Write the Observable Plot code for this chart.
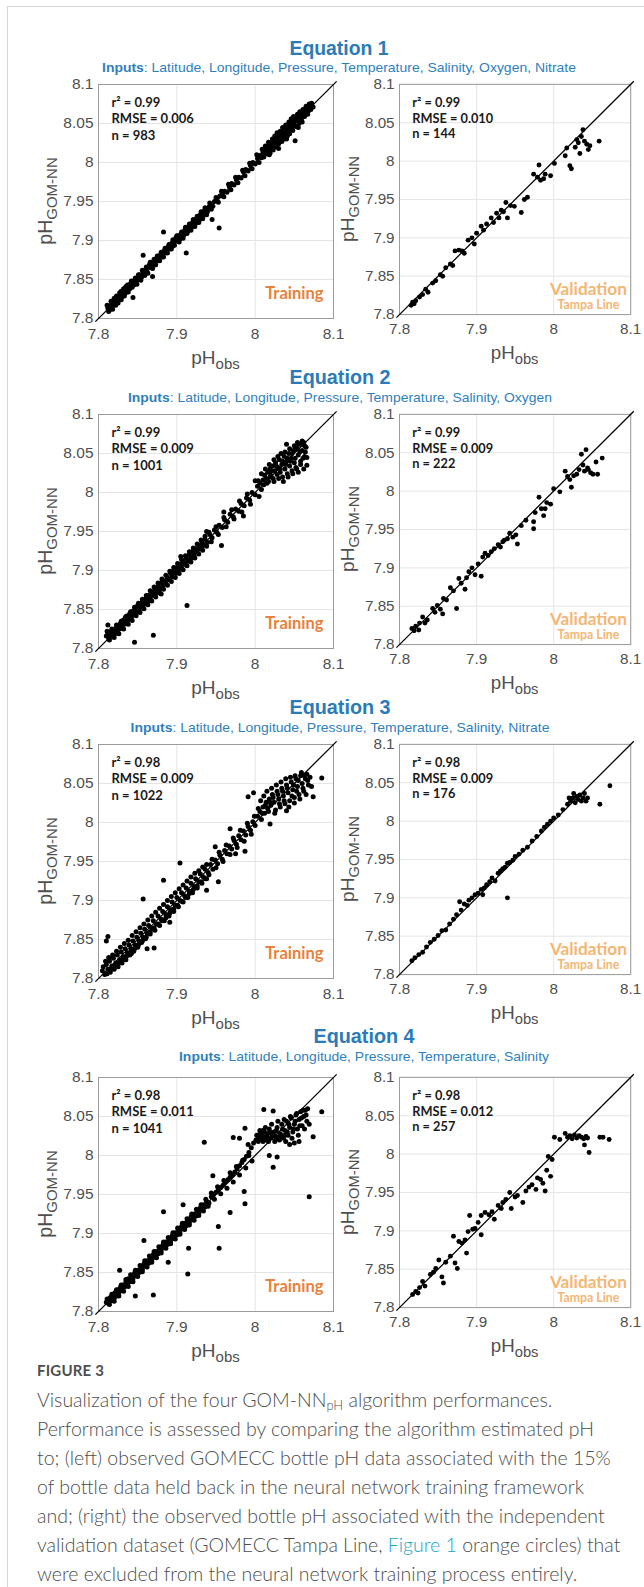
<!DOCTYPE html>
<html><head><meta charset="utf-8">
<script src="https://cdn.jsdelivr.net/npm/d3@7"></script>
<script src="https://cdn.jsdelivr.net/npm/@observablehq/plot@0.6"></script>
<style>
body{margin:0;background:#fff;}
#page{position:relative;width:644px;height:1587px;overflow:hidden;background:#fff;}
#border{position:absolute;left:7px;top:6px;width:700px;height:1700px;border:1px solid #d6d6d6;}
.panel{position:absolute;}
#overlay{position:absolute;left:0;top:0;}
#caption{position:absolute;left:37px;top:1356px;font-family:Lato,'Open Sans',sans-serif;color:#4e4e4e;white-space:nowrap;}
#caption .fig{font-size:15px;font-weight:700;line-height:29px;letter-spacing:0.2px;}
#caption .line{font-size:19.5px;font-weight:300;line-height:29px;}
#caption a{color:#1ba6c9;text-decoration:none;}
</style></head>
<body><div id="page"><div id="border"></div></div>
<script>
// ---------- data ----------
const equationNames = ["Equation 1", "Equation 2", "Equation 3", "Equation 4"];
const inputLists = [
  "Latitude, Longitude, Pressure, Temperature, Salinity, Oxygen, Nitrate",
  "Latitude, Longitude, Pressure, Temperature, Salinity, Oxygen",
  "Latitude, Longitude, Pressure, Temperature, Salinity, Nitrate",
  "Latitude, Longitude, Pressure, Temperature, Salinity"
];
const trainStats = [["0.99","0.006","983"],["0.99","0.009","1001"],["0.98","0.009","1022"],["0.98","0.011","1041"]];
const validStats = [["0.99","0.010","144"],["0.99","0.009","222"],["0.98","0.009","176"],["0.98","0.012","257"]];
const phDomain = [7.8, 8.1];
const xTicks = [7.8, 7.9, 8, 8.1];
const yTicks = [7.8, 7.85, 7.9, 7.95, 8, 8.05, 8.1];

const eq1Train = [[7.812,7.813],[7.814,7.816],[7.815,7.812],[7.817,7.819],[7.816,7.815],[7.819,7.817],[7.818,7.821],[7.821,7.819],[7.820,7.823],[7.822,7.825],[7.824,7.822],[7.825,7.827],[7.826,7.824],[7.828,7.830],[7.827,7.833],[7.830,7.828],[7.831,7.834],[7.833,7.836],[7.834,7.832],[7.836,7.838],[7.835,7.841],[7.838,7.840],[7.839,7.843],[7.841,7.845],[7.840,7.838],[7.843,7.846],[7.845,7.843],[7.846,7.849],[7.848,7.846],[7.850,7.852],[7.852,7.850],[7.853,7.856],[7.855,7.853],[7.857,7.860],[7.858,7.857],[7.860,7.862],[7.862,7.860],[7.864,7.866],[7.865,7.869],[7.867,7.865],[7.868,7.871],[7.870,7.868],[7.872,7.874],[7.874,7.877],[7.876,7.874],[7.877,7.880],[7.879,7.881],[7.881,7.879],[7.882,7.885],[7.884,7.887],[7.886,7.884],[7.887,7.890],[7.889,7.892],[7.891,7.889],[7.892,7.895],[7.894,7.897],[7.896,7.899],[7.895,7.893],[7.898,7.901],[7.899,7.904],[7.901,7.899],[7.902,7.906],[7.904,7.902],[7.905,7.908],[7.907,7.910],[7.909,7.907],[7.910,7.913],[7.912,7.915],[7.914,7.912],[7.915,7.918],[7.917,7.920],[7.919,7.917],[7.920,7.923],[7.922,7.926],[7.924,7.922],[7.925,7.928],[7.927,7.930],[7.929,7.927],[7.930,7.933],[7.932,7.936],[7.934,7.932],[7.935,7.938],[7.937,7.941],[7.939,7.937],[7.941,7.943],[7.943,7.946],[7.946,7.944],[7.948,7.950],[7.951,7.953],[7.955,7.957],[7.958,7.960],[7.961,7.963],[7.964,7.962],[7.967,7.969],[7.970,7.973],[7.973,7.971],[7.976,7.978],[7.979,7.981],[7.982,7.980],[7.985,7.988],[7.988,7.991],[7.991,7.989],[7.994,7.996],[7.997,8.000],[8.000,7.998],[8.003,8.005],[8.006,8.009],[8.008,8.006],[8.010,8.013],[8.012,8.016],[8.014,8.011],[8.016,8.019],[8.018,8.022],[8.020,8.017],[8.021,8.025],[8.023,8.021],[8.024,8.028],[8.026,8.024],[8.027,8.031],[8.029,8.027],[8.030,8.033],[8.032,8.030],[8.033,8.036],[8.035,8.033],[8.036,8.040],[8.038,8.036],[8.039,8.043],[8.041,8.039],[8.042,8.046],[8.044,8.042],[8.045,8.049],[8.047,8.045],[8.048,8.052],[8.050,8.048],[8.051,8.055],[8.053,8.057],[8.055,8.053],[8.056,8.060],[8.058,8.062],[8.060,8.058],[8.062,8.064],[8.064,8.067],[8.066,8.070],[8.068,8.066],[8.070,8.073],[8.072,8.076],[8.074,8.071],[7.844,7.827],[7.857,7.881],[7.869,7.854],[7.883,7.911],[7.912,7.884],[7.954,7.916],[7.945,7.927],[8.051,8.028],[8.060,8.052],[8.018,8.010],[8.040,8.030],[8.030,8.018],[8.055,8.045]];
const eq1TrainDense = [[7.811,7.817],[7.813,7.809],[7.816,7.822],[7.818,7.812],[7.820,7.826],[7.822,7.817],[7.823,7.829],[7.825,7.820],[7.829,7.835],[7.829,7.824],[7.832,7.838],[7.833,7.829],[7.837,7.843],[7.838,7.834],[7.842,7.848],[7.843,7.840],[7.847,7.852],[7.849,7.844],[7.851,7.856],[7.854,7.849],[7.856,7.862],[7.859,7.855],[7.861,7.866],[7.863,7.858],[7.866,7.872],[7.869,7.864],[7.871,7.876],[7.873,7.869],[7.875,7.880],[7.878,7.874],[7.880,7.885],[7.883,7.879],[7.885,7.890],[7.888,7.884],[7.890,7.895],[7.893,7.889],[7.895,7.901],[7.897,7.894],[7.900,7.906],[7.903,7.898],[7.906,7.911],[7.908,7.903],[7.911,7.917],[7.913,7.909],[7.916,7.921],[7.918,7.913],[7.921,7.927],[7.923,7.918],[7.926,7.931],[7.928,7.923],[7.931,7.937],[7.933,7.928],[7.936,7.942],[7.938,7.933],[7.942,7.948],[7.944,7.940],[7.950,7.955],[7.953,7.949],[7.957,7.963],[7.960,7.956],[7.966,7.972],[7.969,7.965],[7.975,7.981],[7.978,7.974],[7.984,7.990],[7.987,7.983],[7.993,7.999],[7.996,7.992],[8.002,8.010],[8.005,8.000],[8.009,8.017],[8.011,8.007],[8.013,8.021],[8.015,8.014],[8.017,8.026],[8.019,8.012],[8.022,8.030],[8.023,8.016],[8.025,8.034],[8.027,8.020],[8.028,8.038],[8.030,8.024],[8.032,8.040],[8.034,8.027],[8.035,8.045],[8.037,8.030],[8.039,8.048],[8.041,8.034],[8.043,8.052],[8.044,8.037],[8.046,8.056],[8.048,8.041],[8.049,8.059],[8.052,8.046],[8.054,8.062],[8.056,8.050],[8.057,8.065],[8.059,8.054],[8.061,8.068],[8.063,8.059],[8.065,8.072],[8.067,8.062],[8.069,8.075],[8.071,8.068]];

const eq1Valid = [[7.815,7.812],[7.817,7.816],[7.819,7.814],[7.821,7.818],[7.826,7.823],[7.830,7.826],[7.834,7.833],[7.837,7.829],[7.843,7.841],[7.847,7.844],[7.853,7.852],[7.856,7.850],[7.860,7.861],[7.866,7.866],[7.869,7.864],[7.872,7.883],[7.877,7.884],[7.881,7.883],[7.884,7.880],[7.889,7.897],[7.894,7.900],[7.897,7.892],[7.900,7.906],[7.906,7.915],[7.909,7.910],[7.913,7.918],[7.919,7.926],[7.922,7.920],[7.926,7.932],[7.929,7.926],[7.932,7.936],[7.935,7.934],[7.938,7.946],[7.940,7.926],[7.944,7.942],[7.949,7.941],[7.958,7.933],[7.962,7.950],[7.966,7.953],[7.974,7.983],[7.979,7.979],[7.981,7.995],[7.983,7.975],[7.987,7.977],[7.989,7.983],[7.996,7.981],[8.001,7.997],[8.015,8.007],[8.017,8.017],[8.021,7.994],[8.023,7.990],[8.028,8.018],[8.030,8.028],[8.032,8.024],[8.034,8.010],[8.036,8.032],[8.038,8.041],[8.040,8.026],[8.043,8.022],[8.047,8.020],[8.045,8.015],[8.059,8.026]];

const eq2Train = [[7.810,7.816],[7.812,7.819],[7.813,7.813],[7.815,7.821],[7.816,7.817],[7.818,7.815],[7.819,7.822],[7.821,7.819],[7.822,7.826],[7.824,7.822],[7.825,7.829],[7.827,7.825],[7.828,7.832],[7.830,7.828],[7.831,7.836],[7.833,7.831],[7.834,7.839],[7.836,7.834],[7.837,7.842],[7.839,7.837],[7.840,7.845],[7.842,7.840],[7.844,7.848],[7.845,7.844],[7.847,7.851],[7.849,7.847],[7.850,7.855],[7.852,7.850],[7.854,7.858],[7.856,7.854],[7.857,7.862],[7.859,7.857],[7.861,7.865],[7.863,7.861],[7.864,7.868],[7.866,7.864],[7.868,7.872],[7.870,7.868],[7.872,7.876],[7.874,7.871],[7.876,7.879],[7.878,7.876],[7.880,7.884],[7.882,7.880],[7.884,7.887],[7.886,7.884],[7.888,7.891],[7.890,7.888],[7.892,7.896],[7.894,7.892],[7.896,7.900],[7.898,7.896],[7.900,7.904],[7.902,7.900],[7.904,7.908],[7.906,7.904],[7.908,7.912],[7.910,7.908],[7.912,7.916],[7.914,7.912],[7.916,7.920],[7.918,7.916],[7.920,7.924],[7.922,7.920],[7.924,7.928],[7.926,7.924],[7.928,7.932],[7.930,7.928],[7.932,7.936],[7.934,7.932],[7.936,7.940],[7.939,7.936],[7.942,7.946],[7.945,7.942],[7.948,7.952],[7.951,7.949],[7.954,7.958],[7.958,7.955],[7.961,7.965],[7.965,7.962],[7.968,7.972],[7.972,7.969],[7.975,7.979],[7.979,7.976],[7.982,7.986],[7.986,7.983],[7.989,7.993],[7.993,7.990],[7.996,8.000],[8.000,7.997],[8.003,8.008],[8.006,8.012],[8.008,8.004],[8.010,8.016],[8.012,8.022],[8.014,8.018],[8.016,8.026],[8.017,8.014],[8.019,8.030],[8.020,8.022],[8.022,8.034],[8.023,8.018],[8.025,8.028],[8.026,8.038],[8.028,8.023],[8.029,8.032],[8.031,8.042],[8.032,8.026],[8.034,8.036],[8.035,8.020],[8.037,8.046],[8.038,8.030],[8.040,8.040],[8.041,8.024],[8.043,8.050],[8.044,8.034],[8.046,8.044],[8.047,8.028],[8.049,8.054],[8.050,8.038],[8.052,8.058],[8.053,8.030],[8.055,8.048],[8.056,8.062],[8.058,8.040],[8.060,8.054],[8.062,8.064],[8.063,8.046],[8.065,8.058],[7.846,7.808],[7.870,7.817],[7.812,7.830],[7.913,7.855],[7.957,7.932],[7.938,7.950],[7.960,7.975],[7.985,7.970],[8.000,8.015],[8.066,8.035],[8.040,8.062],[8.005,7.995],[7.880,7.870],[7.905,7.918]];
const eq2TrainDense = [[7.811,7.822],[7.814,7.811],[7.817,7.825],[7.820,7.814],[7.823,7.830],[7.826,7.819],[7.829,7.835],[7.832,7.825],[7.835,7.841],[7.838,7.831],[7.841,7.847],[7.843,7.836],[7.846,7.853],[7.848,7.842],[7.851,7.858],[7.853,7.846],[7.856,7.863],[7.858,7.851],[7.861,7.868],[7.863,7.856],[7.866,7.874],[7.868,7.861],[7.871,7.879],[7.873,7.866],[7.876,7.884],[7.878,7.871],[7.881,7.889],[7.883,7.876],[7.886,7.894],[7.888,7.881],[7.891,7.899],[7.893,7.886],[7.896,7.904],[7.898,7.891],[7.901,7.909],[7.903,7.896],[7.906,7.914],[7.908,7.901],[7.911,7.919],[7.913,7.906],[7.916,7.924],[7.918,7.911],[7.921,7.929],[7.923,7.916],[7.926,7.934],[7.928,7.921],[7.931,7.939],[7.933,7.926],[7.936,7.944],[7.938,7.931],[7.941,7.949],[7.944,7.937],[7.950,7.956],[7.953,7.946],[7.960,7.968],[7.963,7.956],[7.970,7.978],[7.973,7.966],[7.980,7.989],[7.983,7.975],[7.990,7.998],[7.994,7.985],[8.004,8.015],[8.008,8.024],[8.011,8.010],[8.013,8.030],[8.015,8.012],[8.018,8.036],[8.019,8.020],[8.021,8.028],[8.024,8.042],[8.024,8.014],[8.027,8.034],[8.029,8.046],[8.030,8.018],[8.032,8.030],[8.033,8.050],[8.035,8.040],[8.036,8.014],[8.038,8.052],[8.039,8.036],[8.041,8.044],[8.042,8.020],[8.044,8.056],[8.045,8.040],[8.047,8.050],[8.048,8.024],[8.050,8.060],[8.051,8.044],[8.052,8.032],[8.054,8.056],[8.055,8.026],[8.057,8.052],[8.058,8.036],[8.059,8.062],[8.061,8.044],[8.062,8.030],[8.064,8.052],[8.063,8.060],[8.066,8.045],[8.060,8.066],[8.054,8.064]];

const eq2Valid = [[7.816,7.821],[7.819,7.818],[7.821,7.824],[7.825,7.819],[7.826,7.828],[7.830,7.836],[7.833,7.828],[7.836,7.832],[7.843,7.847],[7.846,7.842],[7.849,7.851],[7.853,7.846],[7.856,7.840],[7.857,7.860],[7.861,7.858],[7.866,7.874],[7.870,7.870],[7.874,7.847],[7.877,7.886],[7.880,7.880],[7.885,7.872],[7.887,7.887],[7.890,7.895],[7.894,7.900],[7.898,7.891],[7.902,7.905],[7.906,7.889],[7.908,7.914],[7.911,7.919],[7.915,7.916],[7.919,7.921],[7.923,7.925],[7.928,7.930],[7.931,7.927],[7.934,7.934],[7.936,7.936],[7.940,7.938],[7.943,7.945],[7.947,7.940],[7.951,7.943],[7.953,7.931],[7.958,7.955],[7.964,7.962],[7.974,7.960],[7.974,7.951],[7.976,7.972],[7.981,7.992],[7.984,7.977],[7.987,7.968],[7.989,7.977],[7.991,7.985],[7.996,7.983],[8.000,8.003],[8.008,7.999],[8.015,8.026],[8.018,8.019],[8.021,8.015],[8.023,8.005],[8.026,8.020],[8.030,8.022],[8.033,8.028],[8.036,8.048],[8.038,8.034],[8.040,8.026],[8.042,8.054],[8.044,8.030],[8.045,8.028],[8.048,8.024],[8.051,8.022],[8.055,8.038],[8.057,8.022],[8.063,8.043]];

const eq3Train = [[7.805,7.810],[7.808,7.805],[7.810,7.818],[7.812,7.812],[7.814,7.822],[7.815,7.808],[7.817,7.816],[7.819,7.826],[7.820,7.812],[7.822,7.820],[7.824,7.830],[7.825,7.815],[7.827,7.824],[7.829,7.834],[7.830,7.820],[7.832,7.828],[7.834,7.838],[7.835,7.824],[7.837,7.833],[7.839,7.843],[7.840,7.830],[7.842,7.838],[7.844,7.848],[7.845,7.835],[7.847,7.843],[7.849,7.853],[7.850,7.840],[7.852,7.848],[7.854,7.858],[7.855,7.846],[7.857,7.853],[7.859,7.863],[7.860,7.851],[7.862,7.858],[7.864,7.868],[7.866,7.857],[7.868,7.864],[7.870,7.874],[7.872,7.862],[7.874,7.870],[7.876,7.880],[7.878,7.868],[7.880,7.876],[7.882,7.886],[7.884,7.874],[7.886,7.882],[7.888,7.892],[7.890,7.880],[7.892,7.888],[7.894,7.898],[7.896,7.886],[7.898,7.894],[7.900,7.904],[7.902,7.892],[7.904,7.900],[7.906,7.910],[7.908,7.898],[7.910,7.906],[7.912,7.916],[7.914,7.904],[7.916,7.912],[7.918,7.922],[7.920,7.910],[7.922,7.918],[7.924,7.928],[7.926,7.916],[7.928,7.924],[7.930,7.934],[7.932,7.922],[7.934,7.930],[7.936,7.940],[7.938,7.928],[7.940,7.936],[7.943,7.946],[7.946,7.940],[7.949,7.952],[7.952,7.947],[7.955,7.958],[7.958,7.953],[7.961,7.964],[7.964,7.960],[7.967,7.970],[7.970,7.966],[7.973,7.977],[7.976,7.972],[7.979,7.983],[7.982,7.978],[7.985,7.989],[7.988,7.984],[7.991,7.995],[7.994,7.990],[7.997,8.001],[8.000,7.996],[8.003,8.008],[8.006,8.014],[8.008,8.004],[8.010,8.020],[8.012,8.012],[8.014,8.026],[8.016,8.018],[8.018,8.030],[8.020,8.022],[8.022,8.036],[8.024,8.026],[8.026,8.016],[8.028,8.040],[8.030,8.030],[8.032,8.020],[8.034,8.044],[8.036,8.034],[8.038,8.024],[8.040,8.048],[8.042,8.038],[8.044,8.028],[8.046,8.052],[8.048,8.042],[8.050,8.032],[8.052,8.056],[8.054,8.046],[8.056,8.036],[8.058,8.060],[8.060,8.050],[8.062,8.040],[8.064,8.056],[8.066,8.062],[8.068,8.048],[7.810,7.848],[7.812,7.854],[7.857,7.902],[7.883,7.926],[7.904,7.948],[7.949,7.969],[7.968,7.992],[7.987,7.963],[7.991,8.033],[7.998,8.038],[8.019,7.998],[8.074,8.033],[8.085,8.057],[7.953,7.924],[7.938,7.913],[7.862,7.838],[7.871,7.839],[7.891,7.872],[7.842,7.832],[7.975,7.960]];
const eq3TrainDense = [[7.806,7.815],[7.809,7.822],[7.811,7.806],[7.813,7.827],[7.816,7.812],[7.818,7.830],[7.821,7.816],[7.823,7.835],[7.826,7.820],[7.828,7.840],[7.831,7.825],[7.833,7.845],[7.836,7.829],[7.838,7.849],[7.841,7.834],[7.843,7.855],[7.846,7.838],[7.848,7.860],[7.851,7.843],[7.853,7.865],[7.856,7.848],[7.858,7.870],[7.861,7.853],[7.863,7.875],[7.866,7.860],[7.868,7.880],[7.871,7.865],[7.873,7.885],[7.876,7.870],[7.878,7.890],[7.881,7.874],[7.883,7.895],[7.886,7.878],[7.888,7.900],[7.891,7.884],[7.893,7.905],[7.896,7.889],[7.898,7.910],[7.901,7.894],[7.903,7.915],[7.906,7.899],[7.908,7.920],[7.911,7.904],[7.913,7.925],[7.916,7.909],[7.918,7.930],[7.921,7.914],[7.923,7.935],[7.926,7.919],[7.928,7.938],[7.931,7.924],[7.933,7.943],[7.936,7.928],[7.938,7.946],[7.941,7.933],[7.945,7.953],[7.950,7.942],[7.954,7.962],[7.959,7.950],[7.963,7.971],[7.968,7.959],[7.972,7.980],[7.977,7.968],[7.981,7.990],[7.986,7.976],[7.990,7.999],[7.995,7.985],[7.999,8.008],[8.004,8.018],[8.007,8.028],[8.009,8.012],[8.011,8.034],[8.013,8.022],[8.015,8.040],[8.017,8.014],[8.019,8.026],[8.021,8.044],[8.023,8.032],[8.025,8.012],[8.027,8.048],[8.029,8.036],[8.031,8.024],[8.033,8.052],[8.035,8.040],[8.037,8.028],[8.039,8.056],[8.041,8.044],[8.043,8.020],[8.045,8.058],[8.047,8.034],[8.049,8.048],[8.051,8.060],[8.053,8.040],[8.055,8.054],[8.057,8.030],[8.059,8.064],[8.061,8.044],[8.063,8.060],[8.065,8.036],[8.067,8.054],[8.070,8.058],[8.072,8.046],[8.050,8.025],[8.040,8.015]];

const eq3Valid = [[7.816,7.818],[7.820,7.822],[7.825,7.826],[7.830,7.829],[7.835,7.836],[7.840,7.842],[7.845,7.846],[7.850,7.851],[7.855,7.857],[7.860,7.858],[7.865,7.866],[7.870,7.872],[7.874,7.878],[7.878,7.895],[7.880,7.884],[7.884,7.892],[7.888,7.890],[7.890,7.897],[7.894,7.900],[7.898,7.904],[7.902,7.906],[7.906,7.911],[7.910,7.913],[7.913,7.917],[7.917,7.921],[7.920,7.926],[7.924,7.922],[7.928,7.932],[7.931,7.935],[7.934,7.938],[7.937,7.940],[7.940,7.900],[7.943,7.946],[7.947,7.949],[7.950,7.954],[7.955,7.957],[7.960,7.962],[7.966,7.966],[7.972,7.974],[7.978,7.980],[7.984,7.987],[7.988,7.992],[7.992,7.996],[7.996,8.000],[8.000,8.004],[8.006,8.008],[8.012,8.015],[8.018,8.022],[8.022,8.026],[8.025,8.030],[8.028,8.024],[8.030,8.032],[8.032,8.028],[8.034,8.034],[8.036,8.026],[8.038,8.030],[8.040,8.036],[8.042,8.026],[8.044,8.030],[8.060,8.022],[8.073,8.046],[8.020,8.030],[8.026,8.036],[7.940,7.945],[7.908,7.904]];

const eq4Train = [[7.810,7.812],[7.812,7.815],[7.813,7.810],[7.815,7.818],[7.817,7.814],[7.818,7.821],[7.820,7.817],[7.821,7.824],[7.823,7.820],[7.825,7.828],[7.826,7.824],[7.828,7.831],[7.830,7.827],[7.831,7.834],[7.833,7.831],[7.835,7.838],[7.837,7.834],[7.838,7.842],[7.840,7.838],[7.842,7.845],[7.844,7.842],[7.846,7.849],[7.848,7.846],[7.850,7.853],[7.852,7.850],[7.854,7.857],[7.856,7.854],[7.858,7.861],[7.860,7.858],[7.862,7.865],[7.864,7.862],[7.866,7.869],[7.868,7.866],[7.870,7.873],[7.872,7.870],[7.874,7.877],[7.876,7.874],[7.878,7.881],[7.880,7.878],[7.882,7.885],[7.884,7.882],[7.886,7.889],[7.888,7.886],[7.890,7.893],[7.892,7.890],[7.894,7.897],[7.896,7.894],[7.898,7.901],[7.900,7.898],[7.902,7.905],[7.904,7.902],[7.906,7.909],[7.908,7.906],[7.910,7.913],[7.912,7.910],[7.914,7.917],[7.916,7.914],[7.918,7.921],[7.920,7.918],[7.922,7.925],[7.924,7.922],[7.926,7.929],[7.928,7.926],[7.930,7.933],[7.932,7.930],[7.934,7.937],[7.936,7.934],[7.938,7.941],[7.941,7.939],[7.944,7.947],[7.947,7.950],[7.950,7.953],[7.953,7.956],[7.956,7.959],[7.959,7.962],[7.962,7.966],[7.965,7.969],[7.968,7.972],[7.971,7.975],[7.974,7.979],[7.977,7.983],[7.980,7.987],[7.983,7.991],[7.986,7.995],[7.989,7.999],[7.992,8.004],[7.995,8.010],[7.998,8.016],[8.001,8.020],[8.004,8.024],[8.006,8.028],[8.008,8.021],[8.010,8.032],[8.012,8.024],[8.014,8.020],[8.016,8.028],[8.018,8.034],[8.020,8.022],[8.022,8.026],[8.024,8.030],[8.026,8.020],[8.028,8.036],[8.030,8.024],[8.032,8.028],[8.034,8.040],[8.036,8.022],[8.038,8.032],[8.040,8.044],[8.042,8.026],[8.044,8.036],[8.046,8.048],[8.048,8.030],[8.050,8.040],[8.052,8.052],[8.054,8.034],[8.056,8.046],[8.058,8.056],[8.060,8.038],[8.062,8.050],[8.064,8.058],[8.066,8.044],[7.935,8.017],[8.069,7.947],[7.870,7.821],[7.914,7.848],[7.847,7.820],[7.858,7.891],[7.889,7.863],[7.915,7.881],[7.954,7.881],[7.953,7.909],[7.968,7.927],[7.987,7.938],[7.986,7.954],[7.946,7.974],[7.972,8.023],[7.980,8.022],[7.987,8.035],[8.011,8.059],[8.023,8.057],[8.074,8.024],[8.085,8.056],[8.018,8.000],[8.028,7.998],[8.023,7.985],[7.991,8.014],[7.883,7.928],[7.908,7.937],[7.827,7.853]];
const eq4TrainDense = [[7.811,7.816],[7.814,7.809],[7.817,7.822],[7.820,7.813],[7.823,7.828],[7.826,7.820],[7.829,7.834],[7.832,7.826],[7.835,7.841],[7.838,7.832],[7.841,7.847],[7.844,7.838],[7.847,7.853],[7.850,7.845],[7.853,7.859],[7.856,7.851],[7.859,7.865],[7.862,7.857],[7.865,7.871],[7.868,7.863],[7.871,7.877],[7.874,7.869],[7.877,7.883],[7.880,7.875],[7.883,7.889],[7.886,7.881],[7.889,7.895],[7.892,7.887],[7.895,7.901],[7.898,7.893],[7.901,7.907],[7.904,7.899],[7.907,7.913],[7.910,7.905],[7.913,7.919],[7.916,7.911],[7.919,7.925],[7.922,7.917],[7.925,7.931],[7.928,7.923],[7.931,7.937],[7.934,7.929],[7.937,7.944],[7.940,7.935],[7.944,7.952],[7.948,7.944],[7.952,7.960],[7.956,7.951],[7.960,7.968],[7.964,7.958],[7.968,7.978],[7.972,7.966],[7.976,7.986],[7.980,7.975],[7.984,7.994],[7.988,7.984],[7.992,8.000],[7.996,7.993],[8.002,8.026],[8.004,8.018],[8.006,8.032],[8.008,8.026],[8.010,8.018],[8.012,8.030],[8.013,8.036],[8.015,8.024],[8.017,8.018],[8.019,8.030],[8.021,8.040],[8.023,8.026],[8.025,8.018],[8.027,8.032],[8.029,8.044],[8.031,8.020],[8.033,8.026],[8.035,8.034],[8.037,8.046],[8.039,8.018],[8.041,8.030],[8.043,8.040],[8.045,8.050],[8.047,8.022],[8.049,8.034],[8.051,8.044],[8.053,8.054],[8.055,8.026],[8.057,8.038],[8.059,8.048],[8.061,8.058],[8.063,8.034],[8.065,8.052],[8.067,8.060],[8.069,8.040],[8.056,8.018],[8.050,8.016],[8.044,8.014],[8.038,8.026],[8.026,8.024]];

const eq4Valid = [[7.817,7.817],[7.821,7.821],[7.824,7.819],[7.826,7.826],[7.830,7.834],[7.833,7.828],[7.840,7.843],[7.844,7.846],[7.847,7.851],[7.851,7.862],[7.855,7.840],[7.857,7.832],[7.860,7.859],[7.866,7.867],[7.870,7.893],[7.872,7.858],[7.875,7.851],[7.877,7.886],[7.881,7.884],[7.885,7.888],[7.887,7.871],[7.889,7.899],[7.891,7.920],[7.895,7.902],[7.898,7.903],[7.902,7.911],[7.906,7.920],[7.906,7.895],[7.911,7.924],[7.916,7.921],[7.920,7.925],[7.923,7.915],[7.928,7.933],[7.932,7.929],[7.934,7.937],[7.938,7.941],[7.943,7.950],[7.945,7.929],[7.950,7.944],[7.953,7.946],[7.960,7.937],[7.964,7.952],[7.968,7.957],[7.972,7.960],[7.977,7.954],[7.979,7.969],[7.983,7.967],[7.986,7.962],[7.989,7.952],[7.991,7.979],[7.993,7.997],[7.996,7.971],[7.998,7.993],[8.001,8.022],[8.008,8.019],[8.015,8.027],[8.018,8.022],[8.021,8.024],[8.024,8.020],[8.027,8.025],[8.030,8.021],[8.033,8.024],[8.036,8.022],[8.039,8.020],[8.040,8.012],[8.042,8.023],[8.044,8.021],[8.046,8.002],[8.060,8.022],[8.064,8.022],[8.072,8.019]];

const trainingSets = [eq1Train.concat(eq1TrainDense), eq2Train.concat(eq2TrainDense), eq3Train.concat(eq3TrainDense), eq4Train.concat(eq4TrainDense)];
const validationSets = [eq1Valid, eq2Valid, eq3Valid, eq4Valid];

// ---------- layout ----------
const frameTops = [84, 414, 744, 1077];
const titleLayout = [
  {cx: 339, tb: 55, ib: 72, tw: 99, iw: 474},
  {cx: 340, tb: 384, ib: 402, tw: 101, iw: 424},
  {cx: 340, tb: 714, ib: 732, tw: 101, iw: 419},
  {cx: 364, tb: 1043, ib: 1061, tw: 101, iw: 370}
];
const page = document.getElementById("page");
const axisFont = "'Liberation Sans', Arial, sans-serif";
const labelFont = "Lato, 'Open Sans', sans-serif";
const mL = 60, mR = 14, mT = 8, mB = 60, FW = 235, FH = 234;

function panel(data, stats, kind, frameLeft, frameTop) {
  const ext = 0.004;
  const marks = [
    Plot.gridX(xTicks, {stroke: "#e4e4e4", strokeOpacity: 1}),
    Plot.gridY(yTicks, {stroke: "#e4e4e4", strokeOpacity: 1}),
    Plot.frame({stroke: "#9b9b9b"}),
    Plot.axisX(xTicks, {tickSize: 0, tickPadding: 9, label: null, tickFormat: d => String(d), fontSize: 15.5}),
    Plot.axisY(yTicks, {tickSize: 0, tickPadding: 5, label: null, tickFormat: d => String(d), fontSize: 15.5}),
    Plot.link([phDomain], {x1: d => d[0] - ext, y1: d => d[0] - ext, x2: d => d[1] + ext, y2: d => d[1] + ext, stroke: "#000", strokeWidth: 1.3, clip: false}),
    Plot.dot(data, {x: d => d[0], y: d => d[1], r: 2.5, fill: "#000", stroke: "none"}),
    Plot.text([`r² = ${stats[0]}\nRMSE = ${stats[1]}\nn = ${stats[2]}`], {text: d => d, frameAnchor: "top-left", textAnchor: "start", dx: 13, dy: 11, fontSize: 13, fontWeight: 700, fontFamily: labelFont, lineHeight: 1.25, fill: "#1a1a1a"})
  ];
  if (kind === "train") {
    marks.push(Plot.text(["Training"], {text: d => d, frameAnchor: "bottom-right", textAnchor: "end", lineAnchor: "bottom", dx: -10, dy: -20, fontSize: 16.5, fontWeight: 700, fontFamily: labelFont, fill: "#e8813b"}));
  } else {
    marks.push(Plot.text(["Validation"], {text: d => d, frameAnchor: "bottom-right", textAnchor: "middle", lineAnchor: "bottom", dx: -43, dy: -20, fontSize: 17.5, fontWeight: 700, fontFamily: labelFont, fill: "#f4b673"}));
    marks.push(Plot.text(["Tampa Line"], {text: d => d, frameAnchor: "bottom-right", textAnchor: "middle", lineAnchor: "bottom", dx: -43, dy: -6, fontSize: 12.5, fontWeight: 700, fontFamily: labelFont, fill: "#f4b673"}));
  }
  const svg = Plot.plot({
    width: mL + FW + mR, height: mT + FH + mB,
    marginLeft: mL, marginRight: mR, marginTop: mT, marginBottom: mB,
    x: {domain: phDomain}, y: {domain: phDomain},
    style: {background: "transparent", fontFamily: axisFont, color: "#4f4f4f", overflow: "visible"},
    marks
  });
  const s = d3.select(svg);
  const xl = s.append("text").attr("x", mL + FW / 2).attr("y", mT + FH + 46)
    .attr("text-anchor", "middle").attr("fill", "#4f4f4f").style("font-family", axisFont).style("font-size", "19px");
  xl.append("tspan").text("pH");
  xl.append("tspan").attr("dy", 5).style("font-size", "15px").text("obs");
  const yl = s.append("text").attr("transform", `translate(${mL - 46},${mT + FH / 2}) rotate(-90)`)
    .attr("text-anchor", "middle").attr("fill", "#4f4f4f").style("font-family", axisFont).style("font-size", "19.5px");
  yl.append("tspan").text("pH");
  yl.append("tspan").attr("dy", 5).style("font-size", "15px").text("GOM-NN");
  const wrap = document.createElement("div");
  wrap.className = "panel";
  wrap.style.left = (frameLeft - mL) + "px";
  wrap.style.top = (frameTop - mT) + "px";
  wrap.appendChild(svg);
  page.appendChild(wrap);
}

for (let i = 0; i < 4; i++) {
  panel(trainingSets[i], trainStats[i], "train", 98, frameTops[i]);
  panel(validationSets[i], validStats[i], "valid", 400, frameTops[i]);
}

// titles overlay
const ov = d3.select(page).append("svg").attr("id", "overlay").attr("width", 644).attr("height", 1587);
equationNames.forEach((name, i) => {
  const L = titleLayout[i];
  ov.append("text").attr("x", L.cx).attr("y", L.tb).attr("text-anchor", "middle")
    .attr("textLength", L.tw).attr("lengthAdjust", "spacingAndGlyphs")
    .attr("fill", "#2a7bb8").style("font-family", axisFont).style("font-weight", 700).style("font-size", "20px").text(name);
  const t = ov.append("text").attr("x", L.cx).attr("y", L.ib).attr("text-anchor", "middle")
    .attr("textLength", L.iw).attr("lengthAdjust", "spacingAndGlyphs")
    .attr("fill", "#2f7fbd").style("font-family", axisFont).style("font-size", "13.5px");
  t.append("tspan").style("font-weight", 700).text("Inputs");
  t.append("tspan").text(": " + inputLists[i]);
});

// caption
const cap = document.createElement("div");
cap.id = "caption";
cap.innerHTML = `<div class="fig">FIGURE 3</div>
<div class="line">Visualization of the four GOM-NN<sub style="font-size:13px;vertical-align:-3px;line-height:0">pH</sub> algorithm performances.</div>
<div class="line">Performance is assessed by comparing the algorithm estimated pH</div>
<div class="line">to; (left) observed GOMECC bottle pH data associated with the 15%</div>
<div class="line">of bottle data held back in the neural network training framework</div>
<div class="line">and; (right) the observed bottle pH associated with the independent</div>
<div class="line">validation dataset (GOMECC Tampa Line, <a>Figure 1</a> orange circles) that</div>
<div class="line">were excluded from the neural network training process entirely.</div>`;
page.appendChild(cap);
</script>
</body></html>
